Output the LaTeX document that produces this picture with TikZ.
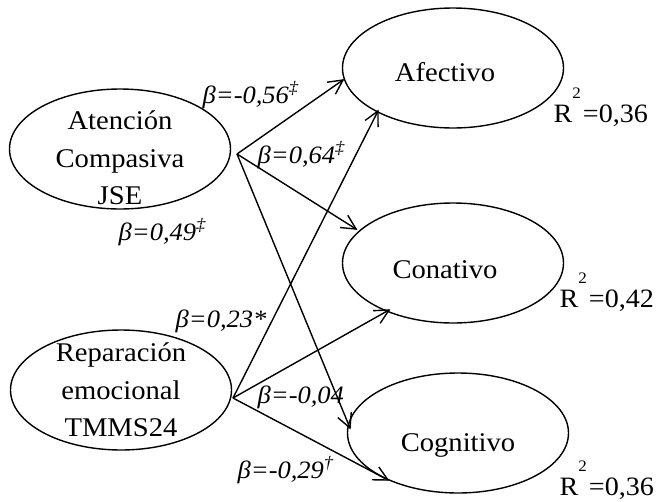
\documentclass[tikz,border=0pt]{standalone}
\usepackage{fontspec}
\setmainfont{Liberation Serif}[FakeStretch=1.06]
\usetikzlibrary{shapes.geometric,calc}
\newcommand{\pathto}[2]{%
  \draw[pth] (#1) -- (#2);
  \draw[pth,line join=miter] ($(#2)!16pt!27:(#1)$) -- (#2) -- ($(#2)!16pt!-27:(#1)$);}
\begin{document}
\begin{tikzpicture}[x=1pt,y=1pt, line width=1.4pt,
  latent/.style={draw, ellipse, minimum width=221pt, minimum height=120pt, inner sep=0pt},
  nm/.style={font=\fontsize{27}{37.5}\selectfont, align=center, inner sep=0pt},
  pth/.style={draw, line width=1.4pt},
  coef/.style={font=\fontsize{25}{25}\selectfont\itshape, anchor=base west, inner sep=0pt},
  rsq/.style={font=\fontsize{26.5}{26.5}\selectfont, anchor=base west, inner sep=0pt}]
\useasboundingbox (0,0) rectangle (656,-501);
\fill[white] (0,0) rectangle (656,-501);
% latent variables
\node[latent] (A) at (120,-149) {};
\node[nm] (At) at (120,-158) {Atención\\Compasiva\\JSE};
\node[latent] (R) at (121,-390) {};
\node[nm] (Rt) at (121,-390) {Reparación\\emocional\\TMMS24};
\node[latent] (Af) at (453,-68) {};
\node[nm] (Aft) at (445,-72) {Afectivo};
\node[latent] (Co) at (453,-263) {};
\node[nm] (Cot) at (445,-270) {Conativo};
\node[latent] (Cg) at (458,-433) {};
\node[nm] (Cgt) at (458,-445) {Cognitivo};
% connector ends
\coordinate (As) at (237,-154);
\coordinate (Rs) at (233,-398);
\coordinate (AfA) at (343,-80);
\coordinate (AfR) at (378,-111);
\coordinate (CoA) at (356,-229);
\coordinate (CoR) at (389,-310);
\coordinate (CgA) at (350,-428);
\coordinate (CgR) at (388,-480);
\pathto{As}{AfA}
\pathto{As}{CoA}
\pathto{As}{CgA}
\pathto{Rs}{AfR}
\pathto{Rs}{CoR}
\pathto{Rs}{CgR}
% coefficients
\node[coef] (b1) at (202,-103) {β=-0,56\textsuperscript{‡}};
\node[coef] (b2) at (257,-163) {β=0,64\textsuperscript{‡}};
\node[coef] (b3) at (118,-240) {β=0,49\textsuperscript{‡}};
\node[coef] (b4) at (175,-327) {β=0,23*};
\node[coef] (b5) at (257,-403) {β=-0,04};
\node[coef] (b6) at (237,-478) {β=-0,29\textsuperscript{†}};
% R squared
\node[rsq] (r1) at (553,-122) {R\raisebox{24pt}{\fontsize{16}{16}\selectfont 2}\hspace{2pt}=0,36};
\node[rsq] (r2) at (559,-307) {R\raisebox{24pt}{\fontsize{16}{16}\selectfont 2}\hspace{2pt}=0,42};
\node[rsq] (r3) at (559,-495) {R\raisebox{24pt}{\fontsize{16}{16}\selectfont 2}\hspace{2pt}=0,36};
\end{tikzpicture}
\end{document}
